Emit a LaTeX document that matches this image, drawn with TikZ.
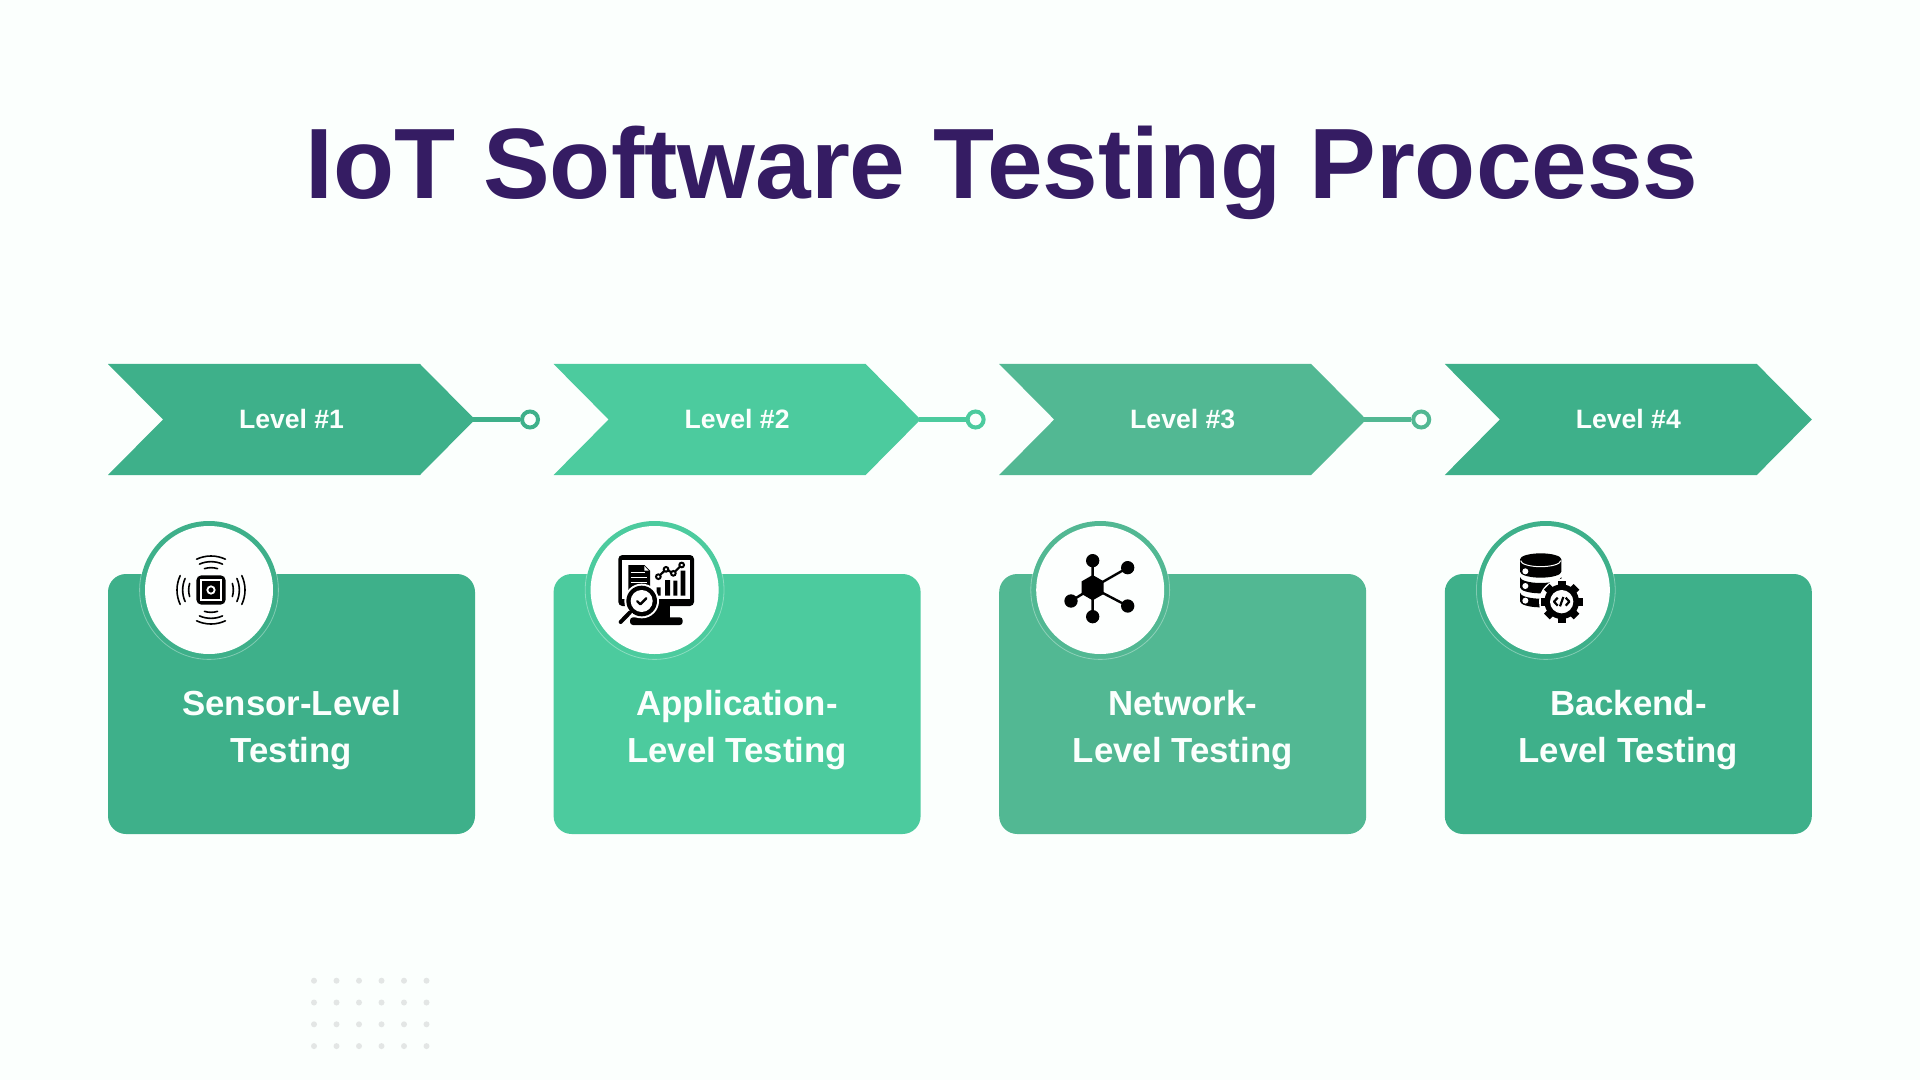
\documentclass[tikz,border=0pt]{standalone}
\usepackage{fontspec}
\setmainfont{Liberation Sans}
\definecolor{bgc}{HTML}{FBFFFD}
\definecolor{titlec}{HTML}{351C63}
\definecolor{ca}{HTML}{3EB08A}
\definecolor{cb}{HTML}{4CCB9E}
\definecolor{cc}{HTML}{52B893}
\definecolor{dotc}{HTML}{E3E6E5}
\tikzset{
  titletext/.style={text=titlec,font=\fontsize{50}{56}\selectfont\bfseries,inner sep=0pt},
  leveltext/.style={text=bgc,font=\fontsize{13.3}{15}\selectfont\bfseries,inner sep=0pt},
  cardtext/.style={text=bgc,font=\fontsize{17.4}{23.5}\selectfont\bfseries,align=center,inner sep=0pt},
  linkdot/.style={circle,draw,line width=2pt,fill=bgc,minimum size=8pt,inner sep=0pt},
  icon/.style={x=.16667pt,y=-.16667pt},
}
\newcommand{\stage}[4]{% offset, colour, name, level
  \begin{scope}[shift={(#1,0)}]
    \fill[#2] (108,364) -- (420,364) -- (475,419.5) -- (420,475) -- (108,475) -- (163,419.5) -- cycle;
    \fill[#2,rounded corners=9pt] (108,574) rectangle (475,834);
    \fill[#2] (209,590) circle[radius=34.5pt];
    \begin{scope}
      \clip (108,574) rectangle (475,834);
      \draw[white,opacity=.35,line width=.4pt] (209,590) circle[radius=34.7pt];
    \end{scope}
    \fill[white!60!bgc] (209,590) circle[radius=32pt];
    \node[leveltext] (level#3) at (291.5,419) {#4};
  \end{scope}
}
\begin{document}
\begin{tikzpicture}[x=.5pt,y=-.5pt]
\useasboundingbox (0,0) rectangle (1920,1080);
\fill[bgc] (0,0) rectangle (1920,1080);
\node[titletext] (title) at (1002,173) {IoT Software Testing Process};

\stage{0}{ca}{1}{Level \#1}
\stage{445.6}{cb}{2}{Level \#2}
\stage{891.2}{cc}{3}{Level \#3}
\stage{1336.8}{ca}{4}{Level \#4}

\node[cardtext] (card1) at (291.5,730) {Sensor-Level\\Testing};
\node[cardtext] (card2) at (737.1,730.5) {Application-\\Level Testing};
\node[cardtext] (card3) at (1182.7,730) {Network-\\Level Testing};
\node[cardtext] (card4) at (1628.3,730) {Backend-\\Level Testing};

% connectors
\coordinate (tip1) at (473,419.5);
\coordinate (tip2) at (918.6,419.5);
\coordinate (tip3) at (1364.2,419.5);
\node[linkdot,draw=ca] (dot1) at (530,419.5) {};
\node[linkdot,draw=cb] (dot2) at (975.6,419.5) {};
\node[linkdot,draw=cc] (dot3) at (1421.2,419.5) {};
\draw[ca,line width=2.4pt] (tip1) -- (dot1);
\draw[cb,line width=2.4pt] (tip2) -- (dot2);
\draw[cc,line width=2.4pt] (tip3) -- (dot3);

% sensor icon
\begin{scope}[shift={(211,590)},icon]
  \fill[black,rounded corners=2.5pt] (-44,-44) rectangle (44,44);
  \draw[white,line width=.7pt] (-30,-30) rectangle (30,30);
  \draw[white,line width=.9pt] (0,0) circle[radius=11];
  \foreach \a in {0,90,180,270}{
    \foreach \r/\s in {67/17,85/24,102/25}{
      \draw[black,line width=.8pt,line cap=round] (\a-\s:\r) arc[start angle=\a-\s,end angle=\a+\s,radius=\r];
    }
  }
\end{scope}

% monitor icon
\begin{scope}[shift={(590,530)},icon]
  \fill[black,rounded corners=2pt] (85,75) rectangle (312,228);
  \fill[white] (97,90) rectangle (300,208);
  \fill[black] (170,225) rectangle (240,265);
  \fill[black,rounded corners=1.5pt] (120,262) rectangle (278,285);
  \fill[black] (115,105) -- (163,105) -- (180,122) -- (180,185) -- (115,185) -- cycle;
  \fill[white] (163,108) -- (176,122) -- (163,122) -- cycle;
  \draw[white,line width=.6pt] (122,128) -- (165,128) (122,143) -- (172,143) (122,158) -- (172,158);
  \draw[black,line width=1.1pt] (205,140) -- (228,118) -- (250,130) -- (275,105);
  \foreach \p in {(205,140),(228,118),(250,130),(275,105)}
    \filldraw[fill=white,draw=black,line width=1pt] \p circle[radius=7];
  \fill[black] (200,172) rectangle (212,197) (225,150) rectangle (240,197) (250,152) rectangle (262,197) (272,122) rectangle (286,197);
  \fill[white] (155,213) circle[radius=52];
  \fill[black] (155,213) circle[radius=46];
  \fill[white] (155,213) circle[radius=33];
  \draw[black,line width=1.2pt,line cap=round,line join=round] (142,214) -- (151,223) -- (169,205);
  \draw[white,line width=3pt] (122,245) -- (100,267);
  \draw[black,line width=2pt,line cap=round] (120,247) -- (92,276);
\end{scope}

% network icon
\begin{scope}[shift={(1035,530)},icon]
  \draw[black,line width=1.2pt]
    (173,173) -- (173,92) (173,173) -- (278,113) (173,173) -- (278,228)
    (173,173) -- (173,260) (173,173) -- (108,213);
  \fill[black] (173,135) -- (206,154) -- (206,192) -- (173,211) -- (140,192) -- (140,154) -- cycle;
  \foreach \p in {(173,92),(278,113),(278,228),(173,260),(108,213)}
    \fill[black] \p circle[radius=20];
\end{scope}

% database icon
\begin{scope}[shift={(1480,530)},icon]
  \fill[black] (120,88) arc[start angle=180,end angle=360,x radius=62,y radius=18]
     -- (244,125) arc[start angle=0,end angle=180,x radius=62,y radius=18] -- cycle;
  \draw[white,line width=.5pt] (122,92) arc[start angle=180,end angle=0,x radius=60,y radius=18];
  \fill[black] (120,141) arc[start angle=180,end angle=0,x radius=62,y radius=18]
     -- (244,172) arc[start angle=0,end angle=180,x radius=62,y radius=18] -- cycle;
  \fill[black] (120,188) arc[start angle=180,end angle=0,x radius=62,y radius=18]
     -- (244,214) arc[start angle=0,end angle=180,x radius=62,y radius=18] -- cycle;
  \foreach \y in {124,168,212}
    \fill[white] (136,\y) circle[radius=9];
  \fill[white] (245,215) circle[radius=68];
  \fill[black] (245,215) circle[radius=52];
  \foreach \a in {0,45,...,315}
    \fill[black,rotate around={\a:(245,215)}] (233,152) rectangle (257,180);
  \fill[white] (245,215) circle[radius=35];
  \draw[black,line width=1.1pt,line join=round] (233,203) -- (222,215) -- (233,227)
    (257,203) -- (268,215) -- (257,227);
  \draw[black,line width=1.1pt] (250,201) -- (240,229);
\end{scope}

% dot grid
\foreach \i in {0,...,5}
  \foreach \j in {0,...,3}
    \fill[dotc] (314+22.5*\i,980.7+21.8*\j) circle[radius=1.5pt];
\end{tikzpicture}
\end{document}
